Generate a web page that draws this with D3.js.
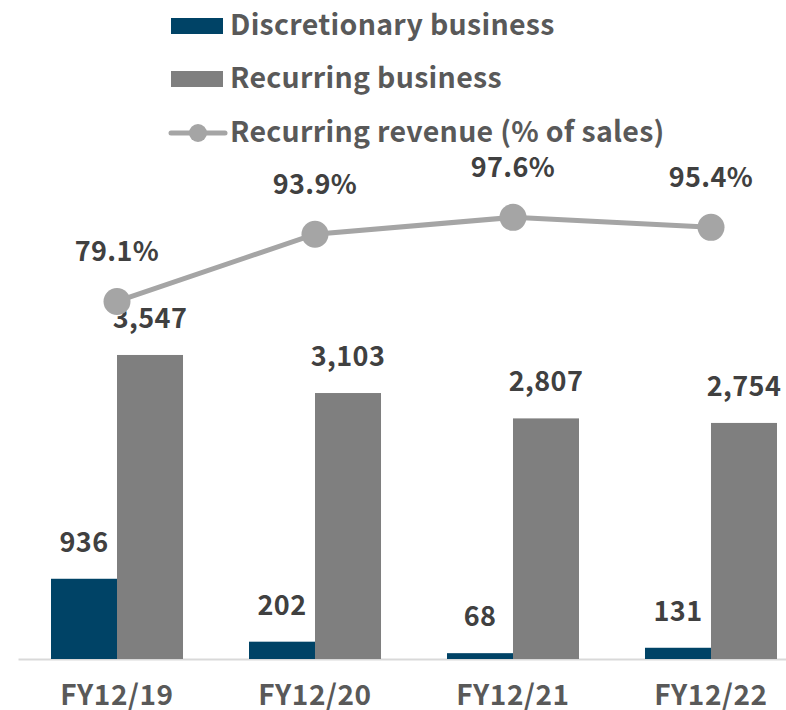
<!DOCTYPE html>
<html>
  <head>
    <style>
    body {
        margin: 0px;
        overflow: hidden;
        background: #fff;
    }
    text {
        font-family: "Noto Sans CJK JP", "Noto Sans", sans-serif;
        font-weight: bold;
    }
    </style>
    <script src="https://d3js.org/d3.v7.min.js"></script>
  </head>
  <body>
    <svg width="786" height="710"></svg>
    <script>
        // data
        const years = ['FY12/19', 'FY12/20', 'FY12/21', 'FY12/22'];
        const discretionary = [936, 202, 68, 131];
        const recurring = [3547, 3103, 2807, 2754];
        const recurringPct = [79.1, 93.9, 97.6, 95.4];
        const seriesNames = ['Discretionary business', 'Recurring business', 'Recurring revenue (% of sales)'];
        const colors = ['#004366', '#7f7f7f', '#a5a5a5'];

        const svg = d3.select('svg');

        //plot area
        const margin = { top: 59, left: 18, bottom: 659 };
        const plotRight = 810;

        const xScale = d3.scaleBand()
            .domain(years)
            .range([margin.left, plotRight])
            .paddingInner(0.3333)
            .paddingOuter(0.1667);

        const xSub = d3.scaleBand()
            .domain([0, 1])
            .range([0, xScale.bandwidth()]);

        const yScale = d3.scaleLinear()
            .domain([0, 7000])
            .range([margin.bottom, margin.top]);

        const y2Scale = d3.scaleLinear()
            .domain([0, 132])
            .range([margin.bottom + 2, margin.top + 2]);

        //baseline
        const xAxis = d3.axisBottom(xScale).tickSize(0).tickPadding(26);
        const xAxisG = svg.append('g')
            .attr('transform', `translate(0,${margin.bottom})`)
            .call(xAxis);
        xAxisG.select('.domain')
            .attr('stroke', '#d9d9d9')
            .attr('stroke-width', 2);
        xAxisG.selectAll('.tick text')
            .attr('font-size', 28)
            .attr('fill', '#595959')
            .attr('dy', '0.72em')
            .attr('letter-spacing', 0.6)
            .attr('font-family', '"Noto Sans CJK JP", sans-serif')
            .attr('font-weight', 'bold');

        //bars
        const barData = years.map((yr, i) => [
            { yr, s: 0, v: discretionary[i] },
            { yr, s: 1, v: recurring[i] }
        ]).flat();

        svg.append('g').selectAll('rect').data(barData)
            .enter().append('rect')
                .attr('x', d => xScale(d.yr) + xSub(d.s))
                .attr('y', d => yScale(d.v))
                .attr('width', xSub.bandwidth())
                .attr('height', d => yScale(0) - yScale(d.v))
                .attr('fill', d => colors[d.s]);

        svg.append('g').selectAll('text').data(barData)
            .enter().append('text')
                .attr('x', d => xScale(d.yr) + xSub(d.s) + xSub.bandwidth() / 2)
                .attr('y', d => yScale(d.v) - 27)
                .attr('text-anchor', 'middle')
                .attr('font-size', 27)
                .attr('letter-spacing', 0.4)
                .attr('fill', '#404040')
                .text(d => d3.format(',')(d.v));

        //line
        const cx = (d, i) => xScale(years[i]) + xScale.bandwidth() / 2;
        const line = d3.line()
            .x((d, i) => cx(d, i))
            .y(d => y2Scale(d));

        svg.append('path')
            .datum(recurringPct)
            .attr('d', line)
            .attr('fill', 'none')
            .attr('stroke', colors[2])
            .attr('stroke-width', 5);

        svg.append('g').selectAll('circle').data(recurringPct)
            .enter().append('circle')
                .attr('cx', cx)
                .attr('cy', d => y2Scale(d))
                .attr('r', 13.5)
                .attr('fill', colors[2]);

        svg.append('g').selectAll('text').data(recurringPct)
            .enter().append('text')
                .attr('x', cx)
                .attr('y', d => y2Scale(d) - 40)
                .attr('text-anchor', 'middle')
                .attr('font-size', 27)
                .attr('letter-spacing', 0.4)
                .attr('fill', '#404040')
                .text(d => d.toFixed(1) + '%');

        //legend
        const legend = svg.append('g').attr('transform', 'translate(171,0)');
        const legendY = [26, 79, 133];

        legend.selectAll('rect').data([0, 1])
            .enter().append('rect')
                .attr('x', 0)
                .attr('y', d => legendY[d] - 8)
                .attr('width', 52)
                .attr('height', 16)
                .attr('fill', d => colors[d]);

        legend.append('line')
            .attr('x1', 0).attr('x2', 54)
            .attr('y1', legendY[2]).attr('y2', legendY[2])
            .attr('stroke', colors[2])
            .attr('stroke-width', 5)
            .attr('stroke-linecap', 'round');
        legend.append('circle')
            .attr('cx', 27).attr('cy', legendY[2])
            .attr('r', 9)
            .attr('fill', colors[2]);

        legend.selectAll('text').data(seriesNames)
            .enter().append('text')
                .attr('x', 59)
                .attr('y', (d, i) => legendY[i] + 9)
                .attr('font-size', 28.5)
                .attr('letter-spacing', 0.3)
                .attr('fill', '#595959')
                .text(d => d);
    </script>
  </body>
</html>
